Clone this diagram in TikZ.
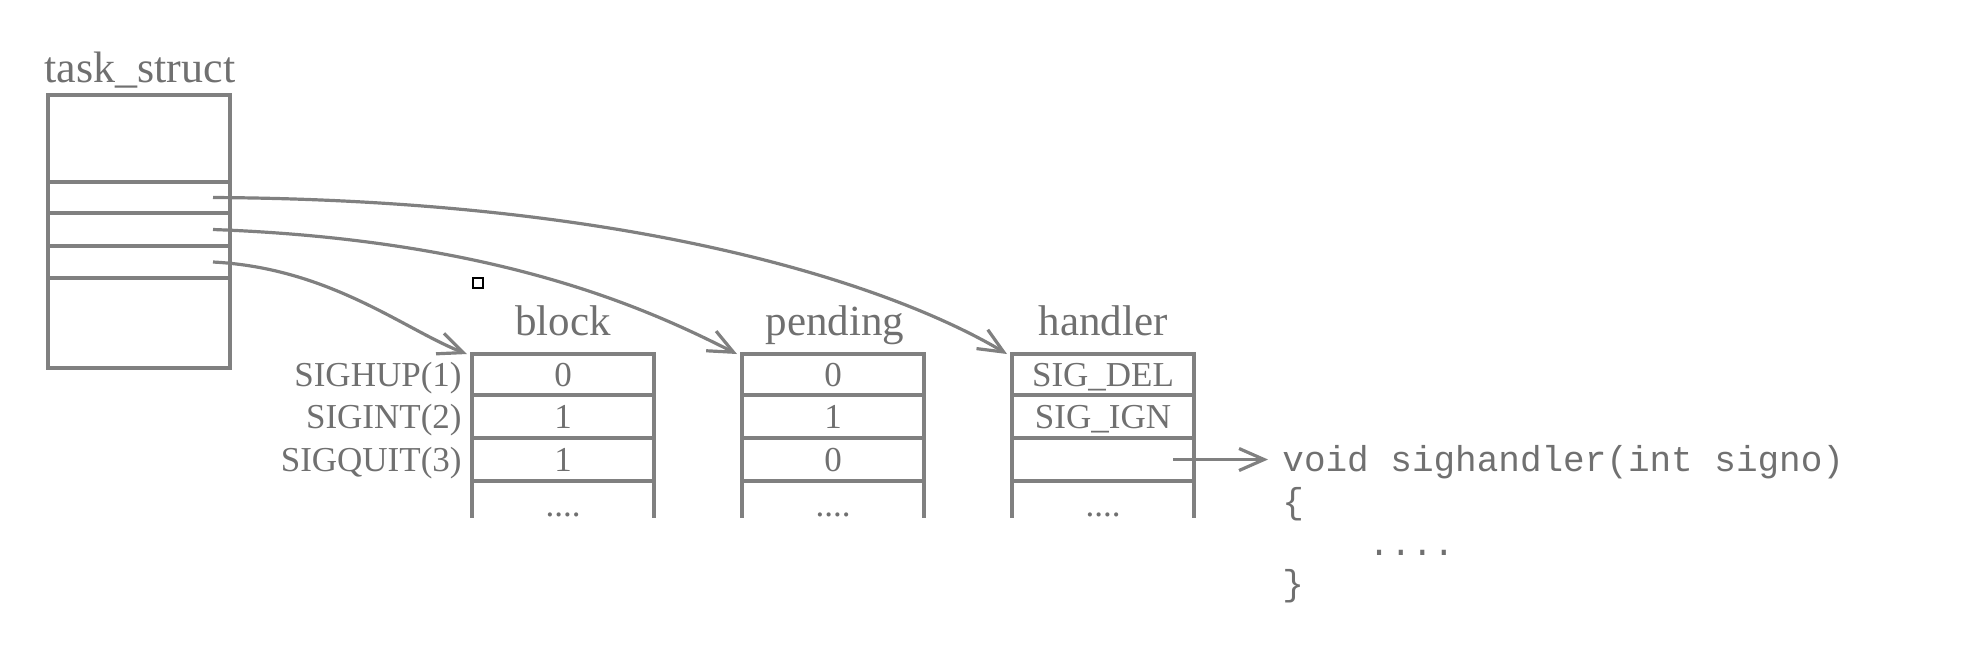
\documentclass[tikz,border=0pt]{standalone}
\usepackage{fontspec}
\setmainfont{Liberation Serif}
\setmonofont{Liberation Mono}
\usetikzlibrary{arrows.meta}

\definecolor{linegray}{RGB}{128,128,128}
\definecolor{inkgray}{RGB}{112,112,112}

\begin{document}
\begin{tikzpicture}[x=0.5pt,y=-0.5pt,
  box/.style={draw=linegray, line width=1.6pt, minimum width=91pt,
    inner sep=0pt, outer sep=0pt, anchor=north west, text=inkgray,
    font=\fontsize{17.5}{20}\selectfont, text height=11.6pt, text depth=0pt},
  openbox/.style={box, draw=none, text height=17pt},
  side/.style={draw=linegray, line width=1.6pt},
  title/.style={anchor=base, inner sep=0pt, text=inkgray,
    font=\fontsize{21.5}{25}\selectfont},
  signame/.style={anchor=east, inner sep=0pt, text=inkgray,
    font=\fontsize{17.5}{20}\selectfont, text height=11.6pt, text depth=0pt},
  code/.style={anchor=base west, inner sep=0pt, text=inkgray,
    font=\fontsize{18}{22}\ttfamily},
  conn/.style={draw=linegray, line width=1.6pt,
    -{Straight Barb[length=12.5pt,width=11pt]}},
]
\useasboundingbox (0,0) rectangle (1968,661);

% task_struct
\node[title, font=\fontsize{22}{26}\selectfont] (tstitle) at (140,82) {task\_struct};
\node[box, minimum height=43.5pt] (ts1) at (48,95) {};
\node[box, minimum height=15.5pt] (ts2) at (ts1.south west) {};
\node[box, minimum height=16.5pt] (ts3) at (ts2.south west) {};
\node[box, minimum height=16pt]   (ts4) at (ts3.south west) {};
\node[box, minimum height=45pt]   (ts5) at (ts4.south west) {};

% block table
\node[box, minimum height=20.5pt] (b1) at (472,354) {0};
\node[box, minimum height=21.5pt] (b2) at (b1.south west) {1};
\node[box, minimum height=21.5pt] (b3) at (b2.south west) {1};
\node[openbox, minimum height=18.5pt] (b4) at (b3.south west) {....};
\draw[side] (b4.north west) -- (b4.south west)
            (b4.north east) -- (b4.south east);
\node[title] (btitle) at ([yshift=9.5pt]b1.north) {block};

% signal names
\node[signame] (s1) at ([xshift=-5pt]b1.west) {SIGHUP(1)};
\node[signame] (s2) at ([xshift=-5pt]b2.west) {SIGINT(2)};
\node[signame] (s3) at ([xshift=-5pt]b3.west) {SIGQUIT(3)};

% pending table
\node[box, minimum height=20.5pt] (p1) at (742,354) {0};
\node[box, minimum height=21.5pt] (p2) at (p1.south west) {1};
\node[box, minimum height=21.5pt] (p3) at (p2.south west) {0};
\node[openbox, minimum height=18.5pt] (p4) at (p3.south west) {....};
\draw[side] (p4.north west) -- (p4.south west)
            (p4.north east) -- (p4.south east);
\node[title] (ptitle) at ([yshift=9.5pt,xshift=1pt]p1.north) {pending};

% handler table
\node[box, minimum height=20.5pt] (h1) at (1012,354) {SIG\_DEL};
\node[box, minimum height=21.5pt] (h2) at (h1.south west) {SIG\_IGN};
\node[box, minimum height=21.5pt] (h3) at (h2.south west) {};
\node[openbox, minimum height=18.5pt] (h4) at (h3.south west) {....};
\draw[side] (h4.north west) -- (h4.south west)
            (h4.north east) -- (h4.south east);
\node[title] (htitle) at ([yshift=9.5pt]h1.north) {handler};

% signal handler code
\node[code] (c1) at (1282,471) {void sighandler(int signo)};
\node[code] (c2) at (1282,513) {\{};
\node[code] (c3) at (1368,555) {....};
\node[code] (c4) at (1282,595) {\}};

% pointers from task_struct to the tables
\draw[conn] ([xshift=-8.5pt]ts2.east) .. controls (650,200) and (900,290)
            .. ([xshift=-2.5pt]h1.north west);
\draw[conn] ([xshift=-8.5pt]ts3.east) .. controls (500,240) and (650,310)
            .. ([xshift=-2.5pt]p1.north west);
\draw[conn] ([xshift=-8.5pt]ts4.east) .. controls (330,268) and (405,330)
            .. ([xshift=-2.5pt]b1.north west);

% handler pointer to the function
\path ([xshift=-7pt]c1.west) coordinate (cin);
\draw[conn] ([xshift=-10.5pt]h3.east) -- (cin |- h3.center);

% small marker square
\draw[black, line width=1pt] (473,278) rectangle (483,288);
\end{tikzpicture}
\end{document}
